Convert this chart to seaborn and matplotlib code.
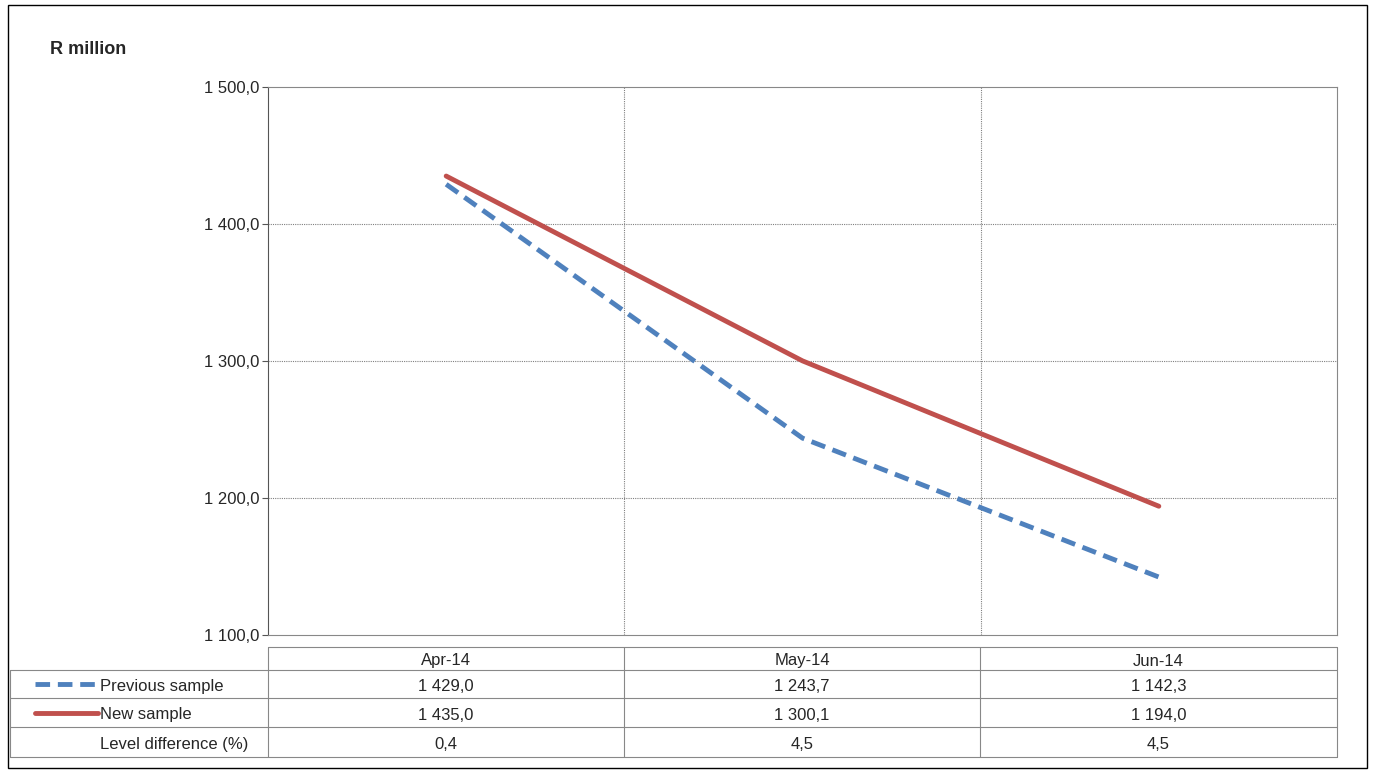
import matplotlib
matplotlib.use("Agg")
import matplotlib.pyplot as plt
import seaborn as sns
import pandas as pd

months = ["Apr-14", "May-14", "Jun-14"]
previous = [1429.0, 1243.7, 1142.3]
new = [1435.0, 1300.1, 1194.0]
level_diff = [0.4, 4.5, 4.5]
yticks = [1100, 1200, 1300, 1400, 1500]

sns.set_style("white")
plt.rcParams["font.family"] = ["Liberation Sans", "DejaVu Sans"]

W, H = 1375, 772
fig = plt.figure(figsize=(W / 100, H / 100), dpi=100)

def fmt(v):
    s = f"{v:,.1f}".replace(",", " ").replace(".", ",")
    return s

# plot area in pixels
L, R, T, B = 268, 1337, 87, 635
ax = fig.add_axes([L / W, 1 - B / H, (R - L) / W, (B - T) / H])

df = pd.DataFrame({"x": [0.5, 1.5, 2.5] * 2,
                   "y": previous + new,
                   "series": ["Previous sample"] * 3 + ["New sample"] * 3})
sns.lineplot(data=df[df.series == "Previous sample"], x="x", y="y", ax=ax,
             color="#4F81BD", lw=3.5, dashes=False, legend=False)
ax.lines[-1].set_linestyle((0, (3, 1.6)))
sns.lineplot(data=df[df.series == "New sample"], x="x", y="y", ax=ax,
             color="#C0504D", lw=3.5, legend=False)

ax.set_xlim(0, 3)
ax.set_ylim(1100, 1500)
ax.set_yticks(yticks)
ax.set_yticklabels([fmt(v) for v in yticks], fontsize=12)
ax.set_xticks([])
ax.set_xlabel("")
ax.set_ylabel("")
for v in yticks[1:-1]:
    ax.axhline(v, color="#808080", lw=0.8, ls=(0, (1, 1)), zorder=0)
for v in [1, 2]:
    ax.axvline(v, color="#808080", lw=0.8, ls=(0, (1, 1)), zorder=0)
for s in ax.spines.values():
    s.set_color("#888888")
    s.set_linewidth(0.8)
ax.spines["left"].set_color("#555555")
ax.tick_params(axis="y", length=4, color="#555555", left=True, pad=2)

# overlay in pixel coordinates for the title, table and border
ov = fig.add_axes([0, 0, 1, 1], facecolor="none")
ov.set_xlim(0, W)
ov.set_ylim(H, 0)
ov.axis("off")
ov.add_patch(plt.Rectangle((8, 5), 1359, 763, fill=False, ec="black", lw=1))
ov.text(50, 50, "R million", fontsize=13, fontweight="bold", va="center")

cols = [268, 624, 980, 1337]
rows = [647, 670, 698, 727, 757]
gc = "#888888"
ov.plot([L, R], [rows[0], rows[0]], color=gc, lw=0.8)
for y in rows[1:]:
    ov.plot([10, R], [y, y], color=gc, lw=0.8)
for x in cols:
    ov.plot([x, x], [rows[0], rows[-1]], color=gc, lw=0.8)
ov.plot([10, 10], [rows[1], rows[-1]], color=gc, lw=0.8)

labels = ["Previous sample", "New sample", "Level difference (%)"]
vals = [[fmt(v) for v in previous], [fmt(v) for v in new],
        [f"{v:.1f}".replace(".", ",") for v in level_diff]]
for i, m in enumerate(months):
    ov.text((cols[i] + cols[i + 1]) / 2, (rows[0] + rows[1]) / 2 + 1, m,
            ha="center", va="center_baseline", fontsize=12)
for r in range(3):
    yc = (rows[r + 1] + rows[r + 2]) / 2 + 1
    ov.text(100, yc, labels[r], va="center_baseline", fontsize=12)
    for i in range(3):
        ov.text((cols[i] + cols[i + 1]) / 2, yc, vals[r][i],
                ha="center", va="center_baseline", fontsize=12)
ov.plot([35, 95], [684, 684], color="#4F81BD", lw=3.5, ls=(0, (3, 1.6)))
ov.plot([35, 98], [713, 713], color="#C0504D", lw=3.5)

fig.savefig("out.png", dpi=100)
